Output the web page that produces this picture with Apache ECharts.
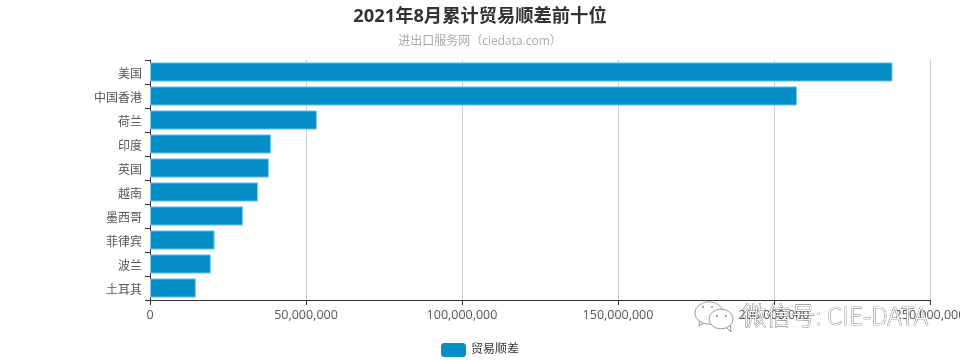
<!DOCTYPE html>
<html><head><meta charset="utf-8">
<style>html,body{margin:0;padding:0;background:#fff}#c{width:960px;height:360px}</style>
<script src="https://cdn.jsdelivr.net/npm/echarts@6/dist/echarts.min.js"></script>
</head><body><div id="c"></div>
<script>
const categories = ['土耳其','波兰','菲律宾','墨西哥','越南','英国','印度','荷兰','中国香港','美国'];
const values = [14700000,19500000,20700000,29800000,34600000,38100000,38800000,53500000,207400000,238000000];
const seriesName = '贸易顺差';
const titleText = '2021年8月累计贸易顺差前十位';
const subtitleText = '进出口服务网（ciedata.com）';
const watermarkText = '微信号: CIE-DATA';
const font = '"Open Sans","Noto Sans CJK SC",sans-serif';
const iconLine = {fill:'#fff',stroke:'#777',lineWidth:0.8};
const dot = {fill:'#888'};
const chart = echarts.init(document.getElementById('c'), null, {renderer:'canvas'});
chart.setOption({
  animation:false,
  backgroundColor:'#fff',
  title:{text:titleText,subtext:subtitleText,left:'center',top:3,itemGap:9,
    textStyle:{fontFamily:font,fontSize:18.3,fontWeight:'bold',color:'#333'},
    subtextStyle:{fontFamily:font,fontSize:12,color:'#aaa'}},
  legend:{data:[seriesName],bottom:-2,left:'center',itemWidth:25,itemHeight:14,itemGap:5,
    itemStyle:{borderWidth:0},
    textStyle:{fontFamily:font,fontSize:12,color:'#333',padding:[2,0,0,0]}},
  grid:{left:150,right:30,top:60,bottom:60,containLabel:false,outerBoundsMode:'none'},
  xAxis:{type:'value',min:0,max:250000000,interval:50000000,
    axisLine:{show:true,lineStyle:{color:'#333'}},
    axisTick:{show:true,length:5,lineStyle:{color:'#333'}},
    axisLabel:{fontFamily:font,fontSize:12.5,color:'#555',margin:8,hideOverlap:false,showMaxLabel:true,
      padding:[1,0,0,0],formatter:v=>v.toLocaleString('en-US')},
    splitLine:{show:true,lineStyle:{color:'#ccc'}}},
  yAxis:{type:'category',data:categories,
    axisLine:{show:true,onZero:true,lineStyle:{color:'#333'}},
    axisTick:{show:true,length:5,alignWithLabel:false,lineStyle:{color:'#333'}},
    axisLabel:{fontFamily:font,fontSize:12,color:'#555',margin:8,verticalAlign:'top',lineHeight:6},
    splitLine:{show:false}},
  series:[{type:'bar',name:seriesName,data:values,barCategoryGap:'20%',
    itemStyle:{color:'#058dc7',borderColor:'#7ccbea',borderWidth:1}}],
  graphic:[
    {type:'text',x:742,y:303,z:100,silent:true,
     style:{text:watermarkText,fontFamily:'"Noto Sans CJK SC",sans-serif',fontSize:24.5,fontWeight:300,
       fill:'#fff',stroke:'#555',lineWidth:0.7}},
    {type:'polygon',z:100,silent:true,shape:{points:[[700,318],[699,326],[707,321]]},style:iconLine},
    {type:'circle',z:100,silent:true,x:709,y:313,scaleX:1,scaleY:0.8,shape:{r:14},style:iconLine},
    {type:'circle',z:101,silent:true,shape:{cx:703,cy:307,r:1},style:dot},
    {type:'circle',z:101,silent:true,shape:{cx:712,cy:307,r:1},style:dot},
    {type:'polygon',z:101,silent:true,shape:{points:[[725,326],[731,332],[730,322]]},style:iconLine},
    {type:'circle',z:101,silent:true,x:721,y:319,scaleX:1,scaleY:0.82,shape:{r:12},style:iconLine},
    {type:'circle',z:102,silent:true,shape:{cx:717,cy:316,r:1},style:dot},
    {type:'circle',z:102,silent:true,shape:{cx:726,cy:316,r:1},style:dot}
  ]
});
</script></body></html>
